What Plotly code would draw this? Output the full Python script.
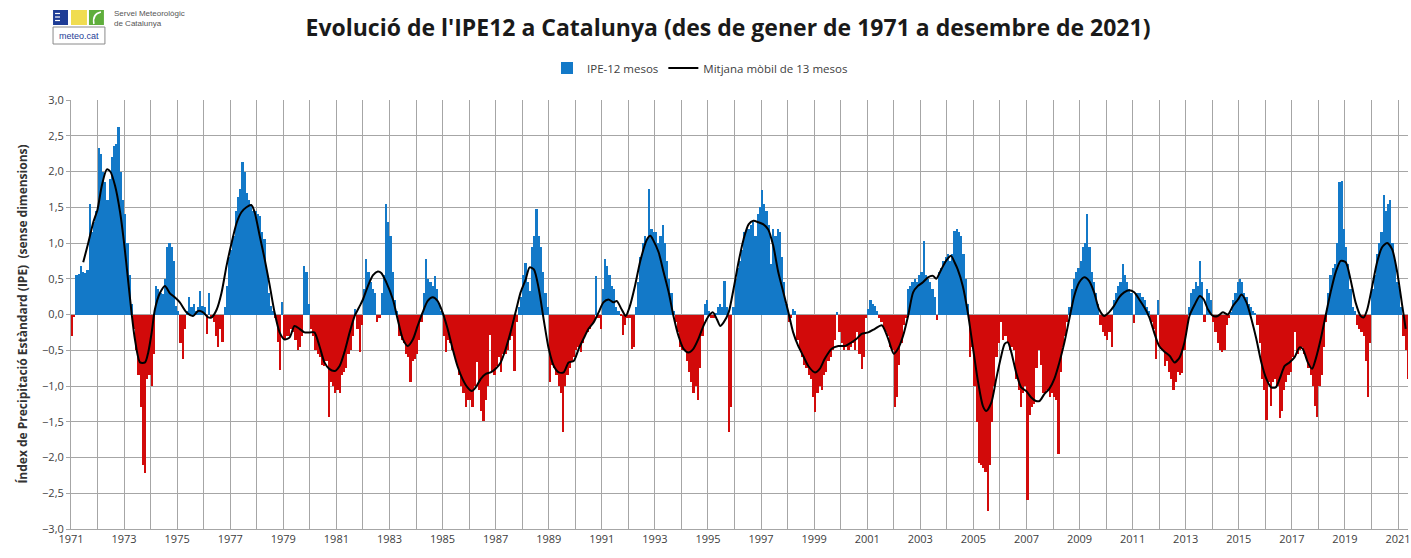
import plotly.graph_objects as go

# ---------------- DATA ----------------
start_year = 1971

# IPE-12 monthly values, Jan 1971 .. May 2021 (one row per year)
ipe12 = [
    -0.30, -0.03, 0.55, 0.56, 0.68, 0.60, 0.58, 0.62, 1.54, 1.15, 1.30, 1.45,   # 1971
    2.33, 2.25, 2.00, 1.85, 1.60, 1.90, 2.20, 2.35, 2.38, 2.62, 2.00, 1.60,     # 1972
    1.40, 1.00, 0.55, 0.15, -0.20, -0.50, -0.85, -1.30, -2.10, -2.22, -0.90, -0.85,  # 1973
    -1.00, -0.55, 0.40, 0.35, 0.30, 0.28, 0.50, 0.95, 1.00, 0.95, 0.75, 0.12,   # 1974
    0.05, -0.40, -0.62, -0.20, 0.05, 0.25, 0.10, 0.15, 0.05, 0.10, 0.33, 0.12,  # 1975
    0.10, -0.27, 0.30, -0.05, -0.10, -0.30, -0.45, -0.20, -0.39, 0.10, 0.40, 0.80,  # 1976
    0.90, 1.10, 1.45, 1.65, 1.75, 2.13, 2.00, 1.70, 1.60, 1.55, 1.45, 1.45,     # 1977
    1.40, 1.38, 1.15, 1.05, 0.60, 0.30, 0.12, 0.05, -0.05, -0.38, -0.78, 0.17,  # 1978
    -0.35, -0.30, -0.30, -0.20, -0.25, -0.35, -0.50, -0.45, -0.30, 0.68, 0.60, 0.15,  # 1979
    -0.20, -0.30, -0.50, -0.55, -0.60, -0.70, -0.72, -0.65, -1.44, -0.95, -1.00, -1.10,  # 1980
    -1.05, -1.10, -0.85, -0.80, -0.75, -0.55, -0.50, -0.30, 0.08, -0.20, -0.53, -0.15,  # 1981
    0.35, 0.77, 0.60, 0.45, 0.35, 0.30, -0.10, -0.05, 0.30, 0.55, 1.55, 1.30,   # 1982
    1.10, 0.60, 0.20, 0.05, -0.30, -0.35, -0.40, -0.55, -0.60, -0.95, -0.65, -0.62,  # 1983
    -0.55, -0.35, -0.10, 0.30, 0.77, 0.50, 0.45, 0.40, 0.54, 0.35, 0.15, 0.05,  # 1984
    -0.30, -0.53, -0.35, -0.40, -0.50, -0.60, -0.70, -0.85, -1.00, -1.10, -1.30, -1.20,  # 1985
    -1.20, -1.30, -1.00, -0.67, -1.05, -1.35, -1.49, -1.20, -1.00, -0.28, -0.80, -0.85,  # 1986
    -0.72, -0.60, -0.80, -0.55, -0.55, -0.50, -0.35, -0.30, -0.79, -0.10, 0.10, 0.25,  # 1987
    0.55, 0.72, 0.45, 0.33, 0.95, 1.10, 1.48, 1.10, 0.95, 0.60, 0.30, 0.10,     # 1988
    -0.95, -0.70, -0.75, -0.85, -1.00, -1.10, -1.65, -1.00, -0.85, -0.75, -0.65, -0.60,  # 1989
    -0.50, -0.45, -0.53, -0.40, -0.30, -0.25, -0.20, -0.15, -0.10, 0.54, -0.05, -0.20,  # 1990
    0.35, 0.77, 0.68, 0.55, 0.40, 0.35, 0.10, 0.05, -0.02, -0.28, -0.15, -0.05,  # 1991
    -0.05, -0.48, -0.45, 0.10, 0.45, 0.80, 1.00, 1.10, 1.05, 1.75, 1.20, 1.15,  # 1992
    1.15, 1.00, 1.10, 1.25, 1.00, 0.75, 0.50, 0.30, 0.05, -0.10, -0.25, -0.45,  # 1993
    -0.50, -0.50, -0.65, -0.80, -0.95, -1.10, -1.00, -1.20, -0.75, -0.30, 0.15, 0.20,  # 1994
    0.05, -0.05, -0.05, 0.02, 0.10, 0.15, 0.10, 0.47, 0.10, -1.65, -1.30, 0.10,  # 1995
    0.50, 0.65, 0.75, 0.90, 1.15, 1.20, 1.20, 1.25, 1.30, 1.10, 1.40, 1.50,     # 1996
    1.74, 1.55, 1.45, 1.25, 0.70, 1.20, 1.10, 1.20, 1.15, 0.80, 0.45, 0.15,     # 1997
    -0.10, -0.05, 0.08, 0.05, -0.35, -0.50, -0.60, -0.70, -0.75, -0.85, -0.90, -1.15,  # 1998
    -1.37, -1.10, -1.00, -1.05, -0.85, -0.80, -0.65, -0.60, -0.50, -0.35, 0.03, -0.25,  # 1999
    -0.40, -0.50, -0.45, -0.50, -0.45, -0.40, -0.50, -0.25, -0.55, -0.76, -0.60, -0.05,  # 2000
    0.08, 0.20, 0.15, 0.12, 0.05, -0.05, -0.10, -0.20, -0.25, -0.30, -0.45, -0.50,  # 2001
    -1.30, -1.15, -0.70, -0.40, -0.15, -0.05, 0.35, 0.40, 0.45, 0.50, 0.45, 0.55,  # 2002
    0.60, 1.03, 0.55, 0.50, 0.45, 0.35, 0.25, -0.08, 0.60, 0.65, 0.75, 0.80,    # 2003
    0.85, 0.75, 0.85, 1.17, 1.20, 1.15, 1.10, 0.85, 0.50, 0.15, -0.60, -0.45,   # 2004
    -1.00, -1.50, -2.07, -2.10, -2.15, -2.20, -2.75, -2.10, -1.50, -1.00, -0.60, -0.40,  # 2005
    -0.10, -0.35, -0.30, -0.40, -0.50, -0.45, -0.50, -0.90, -1.05, -1.30, -1.10, -1.00,  # 2006
    -2.60, -1.40, -1.30, -1.25, -0.75, -0.50, -0.70, -1.10, -1.10, -1.05, -1.15, -1.10,  # 2007
    -1.15, -1.20, -1.95, -0.80, -0.45, -0.30, -0.10, 0.10, 0.35, 0.50, 0.60, 0.65,  # 2008
    0.75, 0.95, 1.00, 1.40, 0.95, 0.60, 0.45, 0.30, 0.15, -0.15, -0.25, -0.30,  # 2009
    -0.35, -0.25, -0.46, 0.20, 0.30, 0.40, 0.45, 0.70, 0.55, 0.45, 0.35, 0.30,  # 2010
    -0.12, 0.30, 0.30, 0.30, 0.25, 0.20, 0.10, 0.05, -0.10, -0.20, -0.62, 0.20,  # 2011
    -0.45, -0.50, -0.72, -0.65, -0.80, -0.90, -1.05, -0.95, -0.80, -0.85, -0.82, -0.50,  # 2012
    -0.20, 0.10, 0.30, 0.35, 0.45, 0.40, 0.75, 0.45, -0.10, 0.35, 0.30, 0.20,   # 2013
    -0.10, -0.25, -0.40, -0.50, -0.52, -0.50, -0.15, -0.05, 0.03, 0.20, 0.30, 0.45,  # 2014
    0.50, 0.45, 0.30, 0.25, 0.15, 0.10, 0.05, 0.02, -0.15, -0.40, -0.90, -1.05,  # 2015
    -1.47, -0.95, -1.28, -0.95, -0.90, -1.00, -1.45, -1.35, -1.05, -0.95, -0.85, -0.80,  # 2016
    -0.60, -0.25, -0.55, -0.50, -0.45, -0.55, -0.60, -0.75, -0.85, -1.00, -1.28, -1.44,  # 2017
    -1.00, -0.85, -0.45, -0.10, 0.30, 0.55, 0.65, 0.70, 1.00, 1.85, 1.87, 1.20,  # 2018
    0.95, 0.70, 0.35, 0.10, 0.05, -0.15, -0.20, -0.25, -0.30, -0.65, -1.16, -0.40,  # 2019
    0.35, 0.55, 0.85, 1.00, 1.15, 1.67, 1.45, 1.55, 1.60, 1.00, 0.75, 0.45,     # 2020
    0.40, 0.10, -0.30, -0.50, -0.90,                                            # 2021 (visible part)
]

# 13-month moving average (decimal year, value)
ma13_time = [
    1971.46, 1971.65, 1971.84, 1972.00, 1972.16, 1972.35, 1972.48, 1972.66, 1972.85,
    1973.00, 1973.16, 1973.28, 1973.41, 1973.60, 1973.79, 1973.91, 1974.04, 1974.16,
    1974.35, 1974.54, 1974.72, 1974.91, 1975.10, 1975.35, 1975.60, 1975.79, 1975.98,
    1976.17, 1976.30, 1976.49, 1976.67, 1976.86, 1977.05, 1977.24, 1977.42, 1977.61,
    1977.80, 1977.92, 1978.11, 1978.30, 1978.49, 1978.67, 1978.86, 1979.05, 1979.24,
    1979.42, 1979.61, 1979.80, 1980.00, 1980.17, 1980.36, 1980.55, 1980.73, 1980.94,
    1981.12, 1981.30, 1981.50, 1981.69, 1981.88, 1982.00, 1982.19, 1982.38, 1982.56,
    1982.69, 1982.88, 1983.13, 1983.31, 1983.50, 1983.69, 1983.88, 1984.06, 1984.25,
    1984.44, 1984.63, 1984.81, 1985.00, 1985.19, 1985.38, 1985.56, 1985.75, 1985.94,
    1986.10, 1986.25, 1986.44, 1986.63, 1986.81, 1987.00, 1987.19, 1987.38, 1987.56,
    1987.75, 1987.94, 1988.13, 1988.28, 1988.44, 1988.63, 1988.81, 1989.00, 1989.19,
    1989.38, 1989.56, 1989.75, 1989.94, 1990.13, 1990.31, 1990.50, 1990.69, 1990.88,
    1991.06, 1991.25, 1991.44, 1991.56, 1991.75, 1991.90, 1992.06, 1992.25, 1992.45,
    1992.70, 1992.83, 1992.95, 1993.14, 1993.33, 1993.52, 1993.70, 1993.89, 1994.08,
    1994.26, 1994.45, 1994.64, 1994.83, 1995.03, 1995.19, 1995.34, 1995.46, 1995.59,
    1995.78, 1995.96, 1996.15, 1996.34, 1996.53, 1996.71, 1996.90, 1997.09, 1997.27,
    1997.46, 1997.65, 1997.84, 1998.03, 1998.21, 1998.40, 1998.59, 1998.78, 1999.03,
    1999.21, 1999.40, 1999.66, 1999.91, 2000.16, 2000.41, 2000.60, 2000.79, 2001.04,
    2001.29, 2001.55, 2001.80, 2002.00, 2002.16, 2002.35, 2002.54, 2002.73, 2002.91,
    2003.10, 2003.29, 2003.48, 2003.60, 2003.79, 2003.97, 2004.16, 2004.29, 2004.41,
    2004.60, 2004.79, 2004.99, 2005.18, 2005.36, 2005.49, 2005.68, 2005.86, 2006.05,
    2006.18, 2006.30, 2006.43, 2006.61, 2006.80, 2006.99, 2007.18, 2007.36, 2007.49,
    2007.68, 2007.86, 2008.05, 2008.24, 2008.43, 2008.61, 2008.80, 2008.99, 2009.18,
    2009.36, 2009.55, 2009.74, 2009.93, 2010.11, 2010.30, 2010.49, 2010.68, 2010.87,
    2011.06, 2011.25, 2011.44, 2011.63, 2011.81, 2012.00, 2012.20, 2012.40, 2012.58,
    2012.77, 2012.96, 2013.14, 2013.34, 2013.53, 2013.68, 2013.84, 2014.03, 2014.21,
    2014.40, 2014.59, 2014.78, 2014.97, 2015.10, 2015.29, 2015.48, 2015.66, 2015.85,
    2016.04, 2016.22, 2016.39, 2016.54, 2016.73, 2016.91, 2017.10, 2017.29, 2017.41,
    2017.60, 2017.76, 2017.90, 2018.09, 2018.27, 2018.46, 2018.65, 2018.84, 2019.03,
    2019.21, 2019.40, 2019.59, 2019.71, 2019.84, 2020.03, 2020.21, 2020.40, 2020.59,
    2020.78, 2020.97, 2021.16, 2021.29,
]
ma13_value = [
    0.73, 1.00, 1.29, 1.47, 1.80, 2.03, 2.00, 1.80, 1.43,
    1.00, 0.45, 0.03, -0.35, -0.67, -0.67, -0.53, -0.25, 0.07,
    0.30, 0.40, 0.30, 0.24, 0.17, 0.03, -0.02, 0.05, 0.03,
    -0.04, -0.04, 0.07, 0.30, 0.68, 1.00, 1.28, 1.43, 1.50,
    1.53, 1.43, 1.10, 0.77, 0.40, 0.03, -0.25, -0.35, -0.32,
    -0.16, -0.20, -0.25, -0.25, -0.25, -0.44, -0.67, -0.76, -0.79,
    -0.72, -0.53, -0.25, -0.02, 0.12, 0.21, 0.40, 0.55, 0.60,
    0.58, 0.45, 0.21, -0.07, -0.34, -0.44, -0.35, -0.16, 0.03,
    0.19, 0.24, 0.19, 0.03, -0.20, -0.48, -0.72, -0.90, -1.02,
    -1.07, -1.02, -0.90, -0.83, -0.81, -0.76, -0.67, -0.48, -0.25,
    0.03, 0.31, 0.49, 0.66, 0.63, 0.35, -0.07, -0.48, -0.72,
    -0.81, -0.81, -0.67, -0.65, -0.48, -0.34, -0.20, -0.11, 0.03,
    0.17, 0.21, 0.17, 0.19, 0.07, -0.02, 0.12, 0.40, 0.75,
    1.05, 1.10, 1.03, 0.87, 0.59, 0.31, -0.02, -0.30, -0.48,
    -0.53, -0.48, -0.34, -0.16, -0.02, 0.03, -0.07, -0.16, -0.11,
    0.03, 0.35, 0.73, 1.05, 1.26, 1.31, 1.29, 1.26, 1.19,
    0.96, 0.59, 0.31, 0.03, -0.25, -0.44, -0.58, -0.72, -0.81,
    -0.76, -0.62, -0.48, -0.44, -0.44, -0.39, -0.34, -0.27, -0.25,
    -0.20, -0.15, -0.35, -0.55, -0.48, -0.30, -0.02, 0.31, 0.40,
    0.45, 0.52, 0.54, 0.50, 0.63, 0.75, 0.82, 0.73, 0.63,
    0.40, 0.03, -0.48, -0.95, -1.28, -1.35, -1.23, -0.90, -0.58,
    -0.41, -0.39, -0.53, -0.81, -1.02, -1.07, -1.16, -1.21, -1.21,
    -1.11, -1.04, -0.90, -0.67, -0.39, -0.07, 0.26, 0.45, 0.52,
    0.47, 0.31, 0.07, -0.02, 0.03, 0.12, 0.24, 0.31, 0.34,
    0.31, 0.21, 0.10, -0.04, -0.25, -0.44, -0.52, -0.58, -0.67,
    -0.60, -0.38, -0.02, 0.14, 0.26, 0.21, 0.07, -0.02, -0.02,
    0.03, 0.00, 0.12, 0.21, 0.28, 0.17, -0.07, -0.34, -0.67,
    -0.90, -1.02, -1.02, -0.90, -0.72, -0.67, -0.60, -0.46, -0.48,
    -0.67, -0.76, -0.62, -0.34, -0.02, 0.31, 0.59, 0.75, 0.73,
    0.49, 0.17, -0.02, -0.04, 0.07, 0.40, 0.73, 0.94, 1.00,
    0.91, 0.59, 0.12, -0.20,
]

year_ticks = list(range(1971, 2022))
tick_labels = [str(y) if (y - 1971) % 2 == 0 else "" for y in year_ticks]

# ---------------- DERIVED ----------------
month_x = [start_year + (i + 0.5) / 12 for i in range(len(ipe12))]
pos_vals = [v if v >= 0 else None for v in ipe12]
neg_vals = [v if v < 0 else None for v in ipe12]

BLUE = "#1379C8"
RED = "#D20A0A"
GRID = "#A6A6A6"
TXT = "#404040"
FONT = "Open Sans"

fig = go.Figure()
fig.add_trace(go.Bar(x=month_x, y=pos_vals, width=1 / 12, name="IPE-12 mesos",
                     marker=dict(color=BLUE, line=dict(width=0))))
fig.add_trace(go.Bar(x=month_x, y=neg_vals, width=1 / 12, name="IPE-12 mesos (neg)",
                     showlegend=False, marker=dict(color=RED, line=dict(width=0))))
fig.add_trace(go.Scatter(x=ma13_time, y=ma13_value, mode="lines",
                         name="Mitjana mòbil de 13 mesos",
                         line=dict(color="black", width=2, shape="spline", smoothing=0.7)))

W, H = 1411, 558
L, R, T, B = 71, 0, 100, 29
PW, PH = W - L - R, H - T - B
px_per_year = 26.6
x_end = start_year + PW / px_per_year


def px(xp):
    return (xp - L) / PW


def py(yp):
    return (H - B - yp) / PH


shapes = []
annotations = []
# meteo.cat logo
shapes.append(dict(type="rect", xref="paper", yref="paper", x0=px(53), x1=px(68), y0=py(25), y1=py(10),
                   fillcolor="#1E3C96", line=dict(width=0)))
for yy in (13.5, 17, 20.5):
    shapes.append(dict(type="line", xref="paper", yref="paper", x0=px(55), x1=px(60), y0=py(yy), y1=py(yy),
                       line=dict(color="white", width=1.2)))
shapes.append(dict(type="rect", xref="paper", yref="paper", x0=px(71), x1=px(87), y0=py(25), y1=py(10),
                   fillcolor="#F0DC50", line=dict(width=0)))
shapes.append(dict(type="rect", xref="paper", yref="paper", x0=px(89), x1=px(104), y0=py(25), y1=py(10),
                   fillcolor="#5FAE3C", line=dict(width=0)))
shapes.append(dict(type="path", xref="paper", yref="paper",
                   path=f"M {px(101)},{py(12)} Q {px(92)},{py(14)} {px(94)},{py(24)}",
                   line=dict(color="white", width=1.5)))
shapes.append(dict(type="rect", xref="paper", yref="paper", x0=px(53), x1=px(105), y0=py(44), y1=py(27),
                   fillcolor="white", line=dict(color="#8A8A8A", width=1)))
annotations.append(dict(xref="paper", yref="paper", x=px(79), y=py(36), text="meteo.cat", showarrow=False,
                        font=dict(family="Liberation Sans", size=9, color="#1E3C96"), xanchor="center",
                        yanchor="middle"))
annotations.append(dict(xref="paper", yref="paper", x=px(112), y=py(18),
                        text="Servei Meteorològic<br>de Catalunya", showarrow=False, align="left",
                        font=dict(family="Liberation Sans", size=8, color="#555555"), xanchor="left",
                        yanchor="middle"))
# y-axis title
annotations.append(dict(xref="paper", yref="paper", x=px(22), y=0.5, textangle=-90,
                        text="<b>Índex de Precipitació Estàndard (IPE)  (sense dimensions)</b>",
                        showarrow=False, xanchor="center", yanchor="middle",
                        font=dict(family=FONT, size=12, color="#333333")))

fig.update_layout(
    width=W, height=H,
    margin=dict(l=L, r=R, t=T, b=B, pad=0),
    paper_bgcolor="white", plot_bgcolor="white",
    separators=", ",
    barmode="overlay", bargap=0,
    font=dict(family=FONT, color=TXT),
    title=dict(text="<b>Evolució de l'IPE12 a Catalunya (des de gener de 1971 a desembre de 2021)</b>",
               xref="container", yref="container", x=728 / W, y=1 - 28 / H,
               xanchor="center", yanchor="middle",
               font=dict(family=FONT, size=23, color="#1a1a1a")),
    legend=dict(orientation="h", xref="container", yref="container", x=700 / W, y=1 - 68 / H,
                xanchor="center", yanchor="middle", font=dict(family=FONT, size=11.5, color=TXT),
                itemwidth=30, tracegroupgap=0, bgcolor="rgba(0,0,0,0)"),
    xaxis=dict(range=[start_year, x_end], tickmode="array", tickvals=year_ticks, ticktext=tick_labels,
               showgrid=True, gridcolor=GRID, gridwidth=1, zeroline=False,
               showline=True, linecolor=GRID, linewidth=1, ticks="", ticklabeloverflow="allow",
               tickfont=dict(family=FONT, size=11, color=TXT), fixedrange=True),
    yaxis=dict(range=[-3, 3], tick0=-3, dtick=0.5, tickformat=".1f",
               showgrid=True, gridcolor=GRID, gridwidth=1, zeroline=False,
               showline=True, linecolor=GRID, linewidth=1, ticks="outside", ticklen=4, tickcolor=GRID,
               tickfont=dict(family=FONT, size=11, color=TXT), fixedrange=True),
    shapes=shapes,
    annotations=annotations,
)

fig.write_html("out.html", config={"displayModeBar": False},
               post_script="document.body.style.margin='0';document.body.style.overflow='hidden';")
